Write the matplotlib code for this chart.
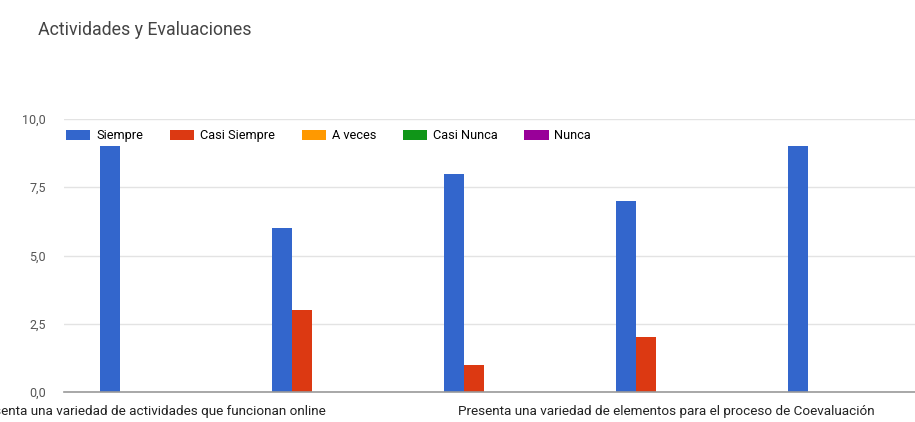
import matplotlib.pyplot as plt
import numpy as np

# data
series = ['Siempre', 'Casi Siempre', 'A veces', 'Casi Nunca', 'Nunca']
colors = ['#3366cc', '#dc3912', '#ff9900', '#109618', '#990099']
categories = ['Presenta una variedad de actividades que funcionan online', '', '',
              'Presenta una variedad de elementos para el proceso de Coevaluación', '']
siempre = [9, 6, 8, 7, 9]
casi_siempre = [0, 3, 1, 2, 0]
a_veces = [0, 0, 0, 0, 0]
casi_nunca = [0, 0, 0, 0, 0]
nunca = [0, 0, 0, 0, 0]
yticks = [0, 2.5, 5, 7.5, 10]
ytick_labels = ['0,0', '2,5', '5,0', '7,5', '10,0']

plt.rcParams['font.family'] = ['Roboto', 'DejaVu Sans']

fig = plt.figure(figsize=(9.15, 4.22), dpi=100)
# plot area runs past the right edge like in the screenshot
ax = fig.add_axes([64 / 915, 30 / 422, 860 / 915, 273 / 422])

x = np.arange(len(categories))
w = 0.116
values = [siempre, casi_siempre, a_veces, casi_nunca, nunca]
for i, (name, vals, c) in enumerate(zip(series, values, colors)):
    ax.bar(x + (i - 2) * w, vals, width=w, color=c, label=name, zorder=3)

ax.set_xlim(-0.5, 4.5)
ax.set_ylim(0, 10)
ax.set_yticks(yticks)
ax.set_yticklabels(ytick_labels)
ax.set_xticks(x)
ax.set_xticklabels(categories)
ax.tick_params(axis='x', length=0, pad=9, labelsize=9.7, labelcolor='#222222')
ax.tick_params(axis='y', length=0, pad=13, labelsize=9, labelcolor='#555555')
ax.grid(axis='y', color='#e3e3e3', linewidth=1, zorder=0)
for s in ['top', 'right', 'left']:
    ax.spines[s].set_visible(False)
ax.spines['bottom'].set_color('#999999')
ax.spines['bottom'].set_linewidth(1.2)
ax.spines['bottom'].set_zorder(4)

ax.legend(loc='upper left', bbox_to_anchor=(-0.008, 0.995), ncol=5, frameon=False,
          fontsize=9.2, handlelength=1.9, handleheight=0.9, handletextpad=0.45,
          columnspacing=2.1, borderaxespad=0.3)

fig.text(38 / 915, 1 - 30 / 422, 'Actividades y Evaluaciones', fontsize=12.8,
         color='#444444', va='center', ha='left')

fig.savefig('out.png', dpi=100)
